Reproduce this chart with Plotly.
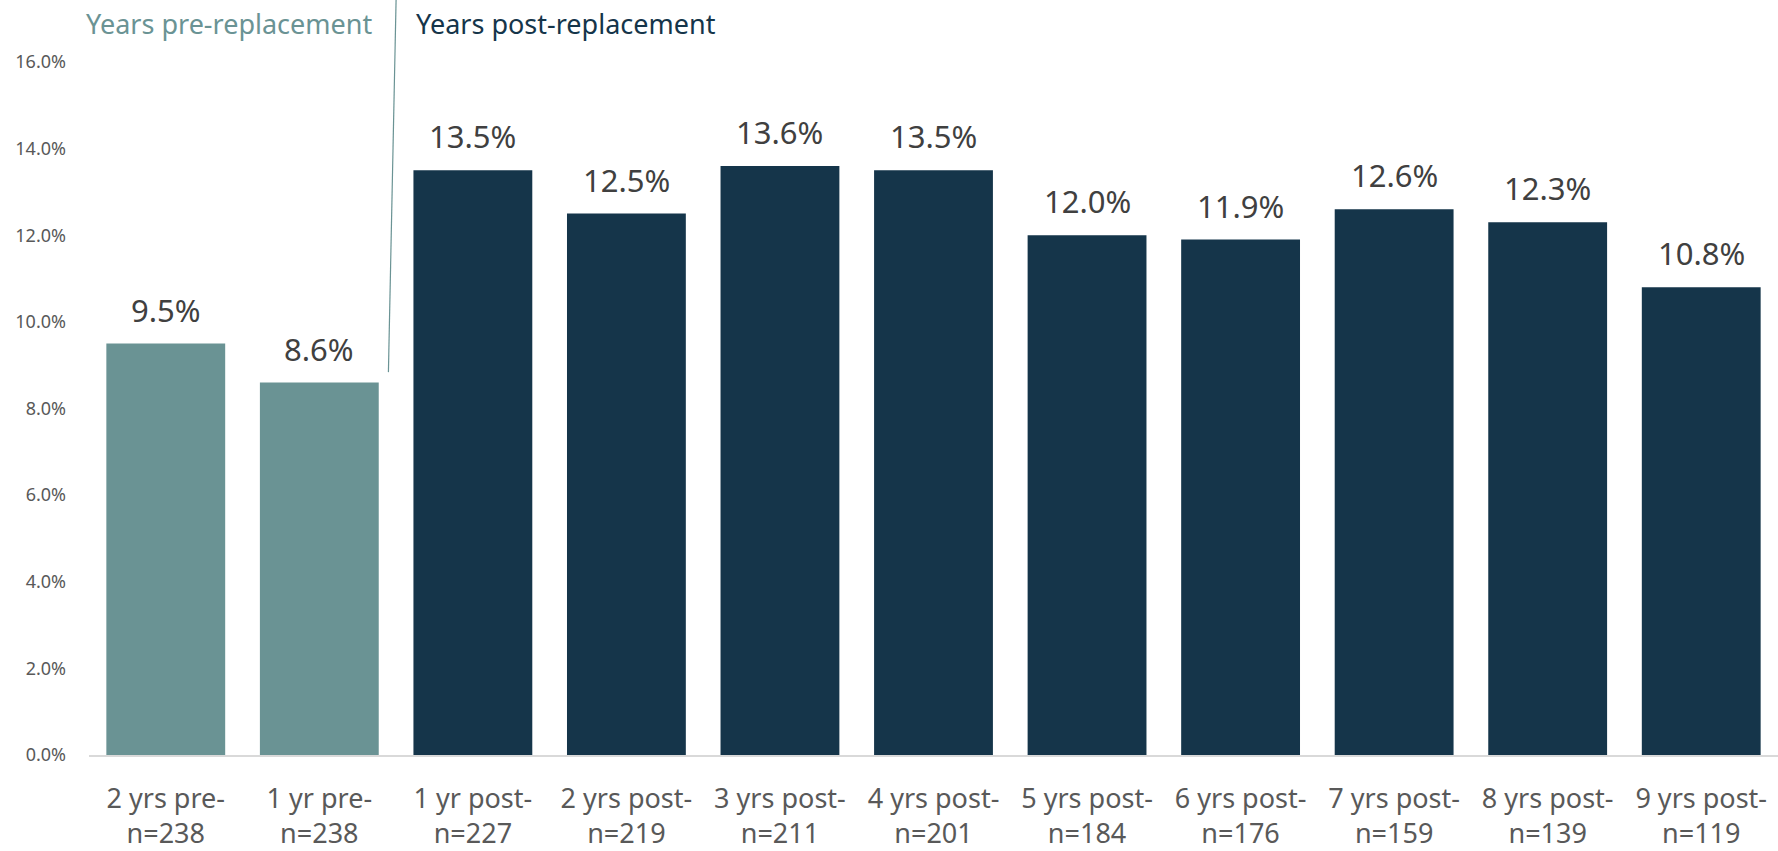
import plotly.graph_objects as go

# Share of patients per year relative to replacement
periods = ["2 yrs pre-", "1 yr pre-", "1 yr post-", "2 yrs post-", "3 yrs post-",
           "4 yrs post-", "5 yrs post-", "6 yrs post-", "7 yrs post-", "8 yrs post-",
           "9 yrs post-"]
sample_sizes = [238, 238, 227, 219, 211, 201, 184, 176, 159, 139, 119]
rates = [9.5, 8.6, 13.5, 12.5, 13.6, 13.5, 12.0, 11.9, 12.6, 12.3, 10.8]
phase = ["pre", "pre", "post", "post", "post", "post", "post", "post", "post", "post", "post"]
y_ticks = [0, 2, 4, 6, 8, 10, 12, 14, 16]

PRE_COLOR = "#6a9394"
POST_COLOR = "#15354a"
FONT = "Noto Sans"

tick_text = [f"{p}<br>n={n}" for p, n in zip(periods, sample_sizes)]
bar_colors = [PRE_COLOR if ph == "pre" else POST_COLOR for ph in phase]

fig = go.Figure(
    go.Bar(
        x=periods,
        y=rates,
        marker=dict(color=bar_colors, line=dict(width=0)),
        hovertemplate="%{x}: %{y:.1f}%<extra></extra>",
    )
)

# Value labels above each bar
for p, v in zip(periods, rates):
    fig.add_annotation(
        x=p, y=v, text=f"{v:.1f}%",
        xref="x", yref="y", xanchor="center", yanchor="bottom",
        yshift=11, showarrow=False,
        font=dict(family=FONT, size=31, color="#404040"),
    )

fig.update_layout(
    width=1778,
    height=851,
    margin=dict(l=89, r=0, t=62, b=94),
    paper_bgcolor="white",
    plot_bgcolor="white",
    bargap=0.226,
    showlegend=False,
    font=dict(family=FONT),
    xaxis=dict(
        tickmode="array",
        tickvals=periods,
        ticktext=tick_text,
        tickfont=dict(family=FONT, size=27, color="#595959"),
        showline=True,
        linecolor="#d9d9d9",
        linewidth=1.5,
        showgrid=False,
        ticks="",
        ticklabelstandoff=19,
    ),
    yaxis=dict(
        range=[0, 16],
        tickmode="array",
        tickvals=y_ticks,
        ticktext=[f"{t:.1f}%" for t in y_ticks],
        tickfont=dict(family=FONT, size=18, color="#595959"),
        showgrid=False,
        zeroline=False,
        showline=False,
        ticks="",
        ticklabelstandoff=22,
    ),
)

# Divider between the pre- and post-replacement periods
fig.add_shape(
    type="line",
    xref="x", yref="paper",
    x0=1.45, y0=0.5525, x1=1.5, y1=1.09,
    line=dict(color="#6a9394", width=1.2),
)

fig.add_annotation(
    text="Years pre-replacement",
    xref="paper", yref="paper", x=0.1687, y=1.056,
    xanchor="right", yanchor="middle", showarrow=False,
    font=dict(family=FONT, size=27, color=PRE_COLOR),
)
fig.add_annotation(
    text="Years post-replacement",
    xref="paper", yref="paper", x=0.1924, y=1.056,
    xanchor="left", yanchor="middle", showarrow=False,
    font=dict(family=FONT, size=27, color=POST_COLOR),
)

fig.write_html("out.html")
